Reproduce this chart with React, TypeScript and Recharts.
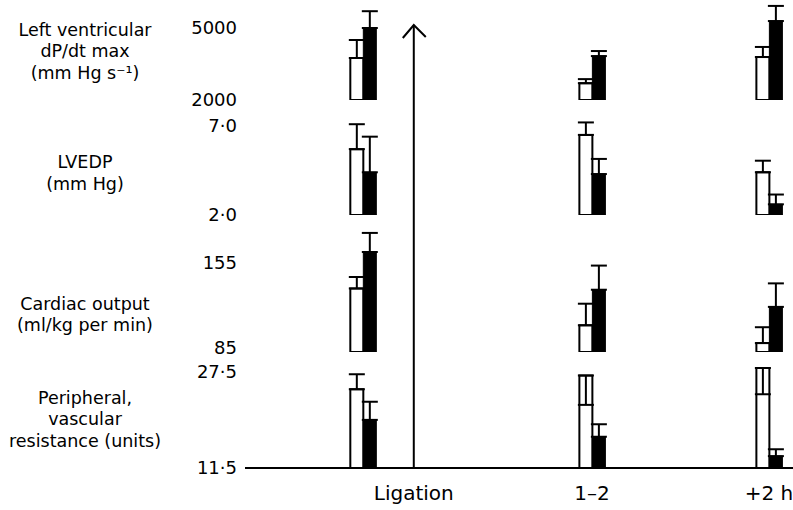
import { Bar, BarChart, ErrorBar, ReferenceLine, XAxis, YAxis } from 'recharts'

const FONT = '"DejaVu Sans", Lato, sans-serif'

// x positions of the groups on a 0-100 time axis
const groupLabels = ['Ligation', '1–2', '+2 h']
const groupX = [21.5, 63.3, 95.6]
const ligationX = 30.8
const xTicks = [30.8, 63.3, 95.6]

// Left ventricular dP/dt max (mm Hg s-1)
const dpdtOpen = [3750, 2700, 3790]
const dpdtOpenErr = [750, 170, 420]
const dpdtFilled = [5000, 3830, 5290]
const dpdtFilledErr = [700, 210, 630]
const arrowTipDpdt = 5125

// LVEDP (mm Hg)
const lvedpOpen = [5.7, 6.5, 4.4]
const lvedpOpenErr = [1.4, 0.7, 0.65]
const lvedpFilled = [4.4, 4.3, 2.6]
const lvedpFilledErr = [2.0, 0.85, 0.55]

// Cardiac output (ml/kg per min)
const coOpen = [135, 106, 92]
const coOpenErr = [9, 17, 12.5]
const coFilled = [163.7, 134, 120.5]
const coFilledErr = [15, 19, 18.5]

// Peripheral vascular resistance (units) - [below, above]
const pvrOpen = [24.1, 26.3, 27.5]
const pvrOpenErr: (number | number[])[] = [2.4, [4.7, 0], [4.2, 0]]
const pvrFilled = [19.2, 16.5, 13.4]
const pvrFilledErr = [2.9, 2.0, 1.1]

const titles = [
  { lines: ['Left ventricular', 'dP/dt max', '(mm Hg s\u207B\u00B9)'], center: 52 },
  { lines: ['LVEDP', '(mm Hg)'], center: 173.5 },
  { lines: ['Cardiac output', '(ml/kg per min)'], center: 315 },
  { lines: ['Peripheral,', 'vascular', 'resistance (units)'], center: 420 },
]

const asRange = (e: number | number[]) => (typeof e === 'number' ? [0, e] : e)

const makeRows = (
  open: number[],
  openErr: (number | number[])[],
  filled: number[],
  filledErr: (number | number[])[],
) =>
  groupX.map((x, i) => ({
    x,
    open: open[i],
    openErr: asRange(openErr[i]),
    filled: filled[i],
    filledErr: asRange(filledErr[i]),
  }))

const panels = [
  { rows: makeRows(dpdtOpen, dpdtOpenErr, dpdtFilled, dpdtFilledErr), domain: [2000, 6000], ticks: [2000, 5000], decimals: 0, plotTop: 4, plotHeight: 96, shift: [0, 0] },
  { rows: makeRows(lvedpOpen, lvedpOpenErr, lvedpFilled, lvedpFilledErr), domain: [2, 8.46], ticks: [2, 7], decimals: 1, plotTop: 100, plotHeight: 115, shift: [0, 0] },
  { rows: makeRows(coOpen, coOpenErr, coFilled, coFilledErr), domain: [85, 192.8], ticks: [85, 155], decimals: 0, plotTop: 215, plotHeight: 137, shift: [-4, 0] },
  { rows: makeRows(pvrOpen, pvrOpenErr, pvrFilled, pvrFilledErr), domain: [11.5, 30.06], ticks: [11.5, 27.5], decimals: 1, plotTop: 352, plotHeight: 116, shift: [0, 4] },
]

function ArrowLine(props: any) {
  const { x1, y1, x2, y2 } = props
  const tipY = Math.min(y1, y2)
  return (
    <g>
      <line x1={x1} y1={y1} x2={x2} y2={y2} stroke="#000" strokeWidth={2} />
      <polyline
        points={`${x1 - 11},${tipY + 13} ${x1},${tipY} ${x1 + 12},${tipY + 12}`}
        fill="none"
        stroke="#000"
        strokeWidth={2}
      />
    </g>
  )
}

function Panel({ cfg, index }: { cfg: (typeof panels)[number]; index: number }) {
  const last = index === panels.length - 1
  const padTop = Math.min(15, cfg.plotTop)
  const axisH = 42
  const height = cfg.plotHeight + padTop + (last ? axisH : 15)
  const fmt = (v: number) => v.toFixed(cfg.decimals).replace('.', '\u00B7')

  const YTick = (props: any) => {
    const { x, y, payload, index: i } = props
    return (
      <text x={x} y={y + (cfg.shift[i] ?? 0)} dy="0.355em" textAnchor="end" fill="#000" fontSize={18} fontFamily={FONT}>
        {fmt(payload.value)}
      </text>
    )
  }

  return (
    <div style={{ position: 'absolute', left: 0, top: cfg.plotTop - padTop }}>
      <BarChart
        width={793}
        height={height}
        data={cfg.rows}
        margin={{ top: padTop, right: 0, bottom: last ? 0 : 15, left: 0 }}
        barGap={0}
        barSize={13}
      >
        <XAxis
          type="number"
          dataKey="x"
          domain={[0, 100]}
          allowDataOverflow
          hide={!last}
          ticks={xTicks}
          interval={0}
          tickFormatter={(_v: number, i: number) => groupLabels[i]}
          axisLine={{ stroke: '#000', strokeWidth: 2 }}
          tickLine={false}
          tickSize={0}
          tickMargin={18}
          height={axisH}
          tick={{ fill: '#000', fontSize: 20, fontFamily: FONT }}
        />
        <YAxis
          type="number"
          domain={cfg.domain}
          allowDataOverflow
          ticks={cfg.ticks}
          interval={0}
          width={245}
          axisLine={false}
          tickLine={false}
          tickSize={0}
          tickMargin={8}
          tick={YTick}
        />
        {index === 0 ? (
          <ReferenceLine
            segment={[
              { x: ligationX, y: cfg.domain[0] },
              { x: ligationX, y: arrowTipDpdt },
            ]}
            stroke="#000"
            strokeWidth={2}
            shape={ArrowLine}
          />
        ) : (
          <ReferenceLine x={ligationX} stroke="#000" strokeWidth={2} />
        )}
        <Bar dataKey="open" fill="#fff" stroke="#000" strokeWidth={2} isAnimationActive={false}>
          <ErrorBar dataKey="openErr" width={8} stroke="#000" strokeWidth={2} isAnimationActive={false} />
        </Bar>
        <Bar dataKey="filled" fill="#000" stroke="#000" strokeWidth={1} isAnimationActive={false}>
          <ErrorBar dataKey="filledErr" width={8} stroke="#000" strokeWidth={2} isAnimationActive={false} />
        </Bar>
      </BarChart>
    </div>
  )
}

export default function App() {
  return (
    <div style={{ position: 'absolute', left: 0, top: 0, width: 793, height: 510, background: '#fff', fontFamily: FONT }}>
      {titles.map((t) => (
        <div
          key={t.lines[0]}
          style={{
            position: 'absolute',
            left: 0,
            width: 170,
            top: t.center - (t.lines.length * 21.5) / 2,
            textAlign: 'center',
            fontSize: 17.5,
            lineHeight: '21.5px',
            color: '#000',
          }}
        >
          {t.lines.map((l) => (
            <div key={l}>{l}</div>
          ))}
        </div>
      ))}
      {panels.map((p, i) => (
        <Panel key={i} cfg={p} index={i} />
      ))}
    </div>
  )
}
